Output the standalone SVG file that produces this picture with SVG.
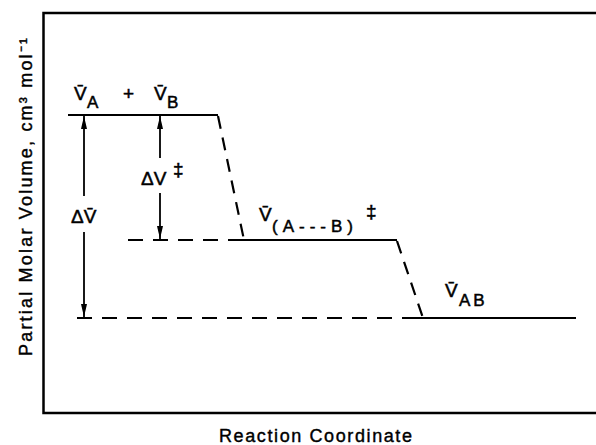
<svg xmlns="http://www.w3.org/2000/svg" width="596" height="445" viewBox="0 0 596 445">
<style>
  .ln{stroke:#000;stroke-width:2.2;fill:none}
  .ds{stroke:#000;stroke-width:2.2;fill:none;stroke-dasharray:15 10}
  .sl{stroke:#000;stroke-width:2.2;fill:none;stroke-dasharray:13 9}
  .ar{stroke:#000;stroke-width:1.8;fill:none;marker-end:url(#ah)}
  .t{font-family:"Liberation Sans",Arial,sans-serif;font-size:19px;fill:#000;stroke:#000;stroke-width:0.5}
  .s{font-family:"Liberation Sans",Arial,sans-serif;font-size:17px;fill:#000;stroke:#000;stroke-width:0.5;letter-spacing:2px}
  .ax{font-family:"Liberation Sans",Arial,sans-serif;font-size:18px;fill:#000;stroke:#000;stroke-width:0.4}
</style>
<defs>
  <marker id="ah" markerUnits="userSpaceOnUse" markerWidth="14" markerHeight="8" refX="13" refY="3" orient="auto">
    <path d="M0,0 L13,3 L0,6 Z" fill="#000"/>
  </marker>
</defs>
<g id="frame">
  <path d="M596,13 H43.5 V413 H596" stroke="#000" stroke-width="2.5" fill="none"/>
</g>
<g id="axis-labels">
  <text class="ax" transform="translate(32,197) rotate(-90)" text-anchor="middle" textLength="318" lengthAdjust="spacing">Partial Molar Volume, cm³ mol⁻¹</text>
  <text class="ax" x="219" y="442" textLength="193" lengthAdjust="spacing">Reaction Coordinate</text>
</g>
<g id="connectors">
  <line class="ln" x1="68" y1="115" x2="218" y2="115"/>
  <line class="sl" x1="218" y1="116" x2="244" y2="240"/>
  <line class="ds" x1="128" y1="240" x2="243" y2="240"/>
  <line class="ln" x1="243" y1="240" x2="397" y2="240"/>
  <line class="sl" x1="397" y1="241" x2="423" y2="318"/>
  <line class="ds" x1="77" y1="318" x2="412" y2="318"/>
  <line class="ln" x1="412" y1="318" x2="576" y2="318"/>
  <line class="ar" x1="84" y1="196" x2="84" y2="116"/>
  <line class="ar" x1="84" y1="232" x2="84" y2="317"/>
  <line class="ar" x1="160" y1="158" x2="160" y2="116"/>
  <line class="ar" x1="160" y1="193" x2="160" y2="239"/>
</g>
<g id="reactants">
  <text class="t" x="74" y="100">V&#x304;</text>
  <text class="s" x="87" y="108">A</text>
  <text class="t" x="123" y="100" font-size="14">+</text>
  <text class="t" x="154" y="100">V&#x304;</text>
  <text class="s" x="167" y="108">B</text>
</g>
<g id="delta-v-bar">
  <text class="t" x="71" y="223">ΔV&#x304;</text>
</g>
<g id="delta-v-ts">
  <text class="t" x="141" y="185">ΔV</text>
  <text class="t" x="173" y="176" font-size="14">‡</text>
</g>
<g id="transition-state">
  <text class="t" x="259" y="221">V&#x304;</text>
  <text class="s" x="272" y="232" style="letter-spacing:5px">(A---B)</text>
  <text class="t" x="366" y="218" font-size="14">‡</text>
</g>
<g id="product">
  <text class="t" x="445" y="297">V&#x304;</text>
  <text class="s" x="459" y="306" style="letter-spacing:3px">AB</text>
</g>
</svg>
